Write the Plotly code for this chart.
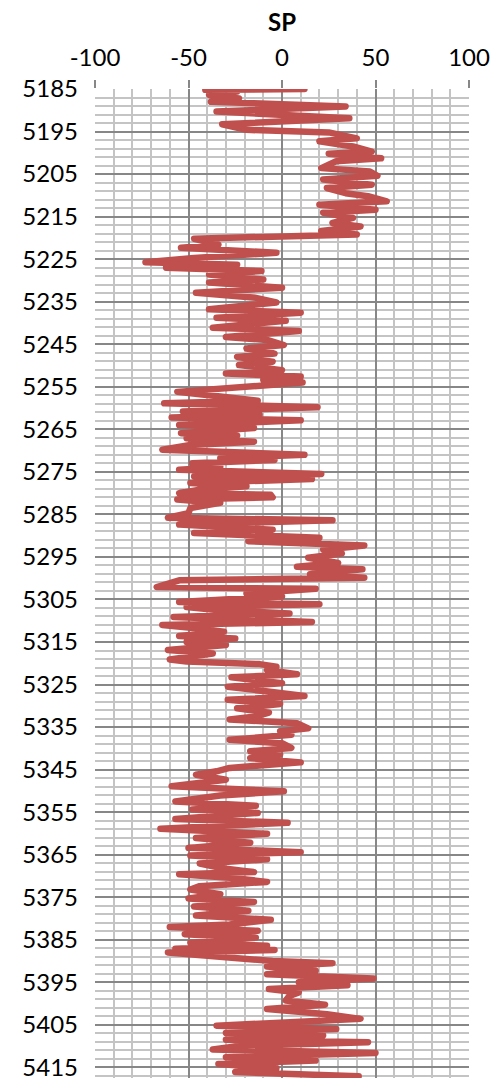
import plotly.graph_objects as go

# ---- data (depth in ft, SP in mV) ----
depth_ft = [
    5185.0, 5185.2, 5185.6, 5186.4, 5187.2, 5188.0, 5189.1, 5190.3, 5191.9, 5193.3,
    5194.6, 5195.2, 5196.6, 5197.3, 5198.5, 5199.7, 5200.2, 5201.3, 5202.0, 5203.6,
    5204.4, 5205.4, 5206.3, 5207.5, 5208.3, 5209.5, 5210.2, 5211.4, 5212.2, 5213.4,
    5214.1, 5215.3, 5216.5, 5217.3, 5218.4, 5219.2, 5220.2, 5221.6, 5222.3, 5223.5,
    5224.7, 5225.7, 5226.3, 5227.0, 5227.8, 5228.6, 5229.8, 5230.5, 5231.7, 5232.9,
    5234.1, 5235.2, 5236.8, 5237.6, 5238.8, 5239.5, 5241.1, 5241.9,
    5243.3, 5244.0, 5245.2, 5246.0, 5247.2, 5248.0, 5249.1, 5249.9, 5251.1, 5251.9,
    5252.6, 5253.4, 5254.0, 5256.2, 5257.3, 5258.3, 5258.9, 5259.8, 5260.8, 5261.6,
    5262.2, 5262.9, 5264.0, 5264.7, 5265.9, 5266.5, 5267.1, 5267.9, 5268.7, 5269.8,
    5271.0, 5271.8, 5272.2, 5273.0, 5273.9, 5274.5, 5275.5, 5276.1, 5276.7, 5277.6,
    5278.4, 5279.2, 5280.0, 5280.4, 5281.0, 5281.5, 5282.3, 5283.5, 5284.7, 5285.8,
    5286.4, 5287.4, 5288.6, 5289.4, 5290.5, 5291.3, 5292.3, 5293.3, 5294.2, 5295.2,
    5296.4, 5297.3, 5297.9, 5299.1, 5299.9, 5300.5,
    5302.1, 5302.5, 5303.6, 5304.3, 5305.6, 5306.1, 5306.8, 5307.5, 5308.3, 5309.1,
    5310.3, 5311.0, 5311.8, 5312.6, 5313.6, 5314.2, 5315.0, 5315.7, 5316.9, 5317.7,
    5319.1, 5319.6, 5320.2, 5320.8, 5321.6, 5322.6, 5323.3, 5324.7, 5325.5, 5326.3,
    5327.7, 5328.6, 5329.6, 5330.6, 5331.6, 5332.5, 5333.2, 5334.1, 5335.3, 5336.0,
    5336.8, 5338.0, 5338.8, 5339.9, 5340.7, 5341.5, 5342.3, 5343.3, 5344.6, 5345.4,
    5346.2, 5347.4, 5348.9, 5350.1, 5351.1, 5352.5, 5353.5, 5354.4, 5355.2, 5356.6,
    5357.5, 5358.9, 5360.1,
    5361.1, 5362.2, 5363.4, 5364.4, 5365.2, 5366.1, 5367.1, 5368.1, 5369.1, 5369.6,
    5370.4, 5371.4, 5372.4, 5373.2, 5374.3, 5375.3, 5376.1, 5377.2, 5378.2, 5379.3,
    5380.3, 5381.4, 5382.0, 5382.9, 5383.7, 5384.5, 5385.7, 5386.4, 5387.1, 5387.4,
    5388.0, 5388.9, 5390.0, 5390.5, 5391.3, 5392.3, 5393.1, 5394.1, 5395.0, 5395.7,
    5396.6, 5397.4, 5398.2, 5399.3, 5400.3, 5401.3, 5402.5, 5403.6, 5404.4, 5405.2,
    5406.0, 5406.9, 5407.5, 5408.5, 5409.1, 5410.0, 5410.8, 5411.6, 5412.6, 5413.4,
    5414.2, 5415.2, 5416.1, 5417.1,
]

sp_mv = [
    12, -41, -24, -39, -23, -38, 34, -35, 36, -32,
    -19, 25, 40, 20, 38, 48, 25, 53, 29, 21,
    47, 51, 22, 48, 24, 34, 46, 56, 20, 50,
    22, 38, 27, 42, 21, 40, -47, -34, -54, -3,
    -47, -73, -24, -62, -11, -39, -10, -39, 0, -46,
    -14, -3, -39, 10, -35, 2, -37, 9,
    -30, -8, 1, -19, -4, -24, -5, -23, 0, -30,
    10, -10, 11, -56, -33, -13, -63, 19, -53, -12,
    -59, 10, -55, -15, -54, -24, -51, -15, -49, -64,
    12, -33, -4, -48, -33, -55, 21, -47, 16, -49,
    -19, -44, -55, -6, -5, -56, -33, -49, -50, -61,
    27, -55, -5, -47, 20, -18, 44, 22, 32, 14,
    30, 8, 43, 15, 44, -55,
    -67, 18, -19, 0, -55, 20, -51, -35, 4, -58,
    16, -64, -46, -31, -55, -25, -51, -30, -61, -37,
    -60, -51, -12, -3, -8, 8, -27, 0, -29, -12,
    12, -29, -1, -24, -7, -14, -28, 8, 14, -1,
    5, -28, 0, 5, -17, -1, -17, 10, -28, -35,
    -46, -30, -59, 1, -33, -57, -14, -48, -13, -57,
    3, -65, -8,
    -46, -17, -50, 10, -49, -8, -44, -33, -15, -55,
    -28, -8, -44, -49, -33, -50, -15, -47, -18, -46,
    -6, -28, -60, -13, -52, -14, -49, -8, -57, -4,
    -61, -33, -5, 27, -8, 18, -8, 49, 9, 35,
    -7, 9, 4, 2, 23, -8, 24, 42, -8, -35,
    29, -30, 22, -30, 46, -24, -37, 50, -30, 18,
    -34, -3, -25, 41,
]

x_ticks = [-100, -50, 0, 50, 100]
y_ticks = list(range(5185, 5416, 10))
chart_title = "SP"

MAJOR = "#878787"
MINOR = "#c4c4c4"
FONT = "Lato, 'Open Sans', sans-serif"

fig = go.Figure(
    go.Scatter(
        x=sp_mv,
        y=depth_ft,
        mode="lines",
        line=dict(color="#C0504D", width=6.5),
        hoverinfo="skip",
    )
)

fig.update_layout(
    width=496,
    height=1081,
    margin=dict(l=95, r=27, t=89, b=0),
    paper_bgcolor="white",
    plot_bgcolor="white",
    showlegend=False,
    font=dict(family=FONT, color="#000000", size=24),
    annotations=[
        dict(
            text="<b>%s</b>" % chart_title,
            xref="paper", yref="paper",
            x=0.5, y=1 + 68 / 992,
            xanchor="center", yanchor="middle",
            showarrow=False,
            font=dict(family=FONT, size=24, color="#000000"),
        )
    ],
)

fig.update_xaxes(
    side="top",
    range=[-100, 100],
    tickmode="array",
    tickvals=x_ticks,
    ticktext=[str(v) for v in x_ticks],
    ticks="outside",
    ticklen=8,
    tickwidth=1.5,
    tickcolor=MAJOR,
    ticklabelstandoff=4,
    ticklabeloverflow="allow",
    showgrid=True,
    gridcolor=MAJOR,
    gridwidth=1.5,
    zeroline=False,
    showline=False,
    minor=dict(dtick=10, tick0=0, showgrid=True, gridcolor=MINOR, gridwidth=1.5, ticks=""),
    fixedrange=True,
)

fig.update_yaxes(
    range=[5417.5, 5185],
    tickmode="array",
    tickvals=y_ticks,
    ticktext=[str(v) for v in y_ticks],
    ticks="",
    ticklabelstandoff=16,
    ticklabeloverflow="allow",
    showgrid=True,
    gridcolor=MAJOR,
    gridwidth=1.5,
    zeroline=False,
    showline=False,
    minor=dict(dtick=2, tick0=5185, showgrid=True, gridcolor=MINOR, gridwidth=1.5, ticks=""),
    fixedrange=True,
)

post = (
    "var s=document.createElement('style');"
    "s.innerHTML='html,body{margin:0;padding:0;overflow:hidden}"
    ".scatterlayer .js-line{stroke-linejoin:round;stroke-linecap:round}';"
    "document.head.appendChild(s);"
)

fig.write_html("out.html", config={"displayModeBar": False}, post_script=post)
